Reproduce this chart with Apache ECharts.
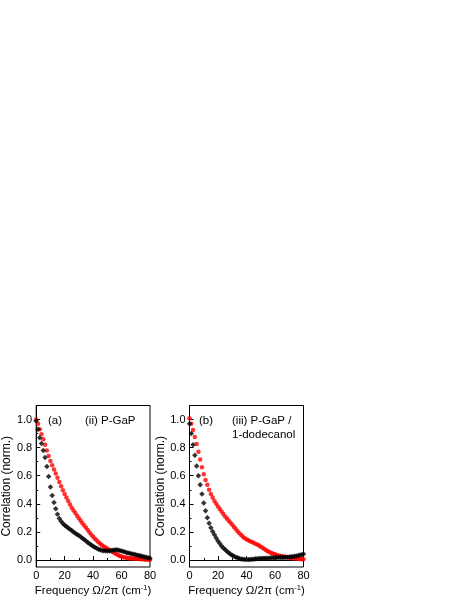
<!DOCTYPE html>
<html>
<head>
<meta charset="utf-8">
<script src="https://cdn.jsdelivr.net/npm/echarts@6/dist/echarts.min.js"></script>
<style>
html,body{margin:0;padding:0;background:#fff;}
#main{width:463px;height:599px;}
</style>
</head>
<body>
<div id="main"></div>
<script>
var freq = [0,1.25,2.5,3.75,5,6.25,7.5,8.75,10,11.25,12.5,13.75,15,16.25,17.5,18.75,20,21.25,22.5,23.75,25,26.25,27.5,28.75,30,31.25,32.5,33.75,35,36.25,37.5,38.75,40,41.25,42.5,43.75,45,46.25,47.5,48.75,50,51.25,52.5,53.75,55,56.25,57.5,58.75,60,61.25,62.5,63.75,65,66.25,67.5,68.75,70,71.25,72.5,73.75,75,76.25,77.5,78.75,80];

var blackA = [0.99,0.93,0.87,0.83,0.78,0.73,0.665,0.595,0.52,0.46,0.41,0.365,0.325,0.295,0.275,0.26,0.248,0.238,0.228,0.218,0.21,0.2,0.19,0.182,0.174,0.165,0.155,0.145,0.135,0.125,0.115,0.106,0.098,0.09,0.083,0.077,0.072,0.068,0.066,0.065,0.064,0.065,0.067,0.069,0.071,0.072,0.071,0.068,0.064,0.06,0.056,0.052,0.049,0.046,0.043,0.04,0.037,0.034,0.031,0.028,0.025,0.022,0.019,0.016,0.013];

var redA = [1.0,0.97,0.93,0.895,0.86,0.82,0.78,0.74,0.705,0.675,0.645,0.615,0.585,0.555,0.525,0.497,0.47,0.445,0.42,0.395,0.372,0.352,0.335,0.315,0.297,0.28,0.262,0.245,0.23,0.213,0.196,0.18,0.165,0.152,0.14,0.127,0.115,0.105,0.096,0.088,0.08,0.072,0.064,0.056,0.049,0.042,0.035,0.029,0.024,0.02,0.017,0.015,0.013,0.012,0.011,0.01,0.009,0.008,0.007,0.006,0.005,0.004,0.003,0.002,0.001];

var blackB = [0.97,0.9,0.82,0.745,0.67,0.6,0.535,0.47,0.405,0.35,0.3,0.262,0.23,0.203,0.18,0.157,0.136,0.117,0.1,0.086,0.074,0.062,0.051,0.041,0.033,0.026,0.02,0.015,0.011,0.007,0.005,0.004,0.003,0.003,0.004,0.005,0.006,0.008,0.009,0.01,0.011,0.012,0.012,0.012,0.013,0.014,0.015,0.016,0.016,0.017,0.017,0.017,0.018,0.018,0.019,0.02,0.021,0.023,0.025,0.027,0.029,0.032,0.035,0.038,0.042];

var redB = [1.01,0.97,0.925,0.875,0.825,0.77,0.715,0.66,0.61,0.57,0.535,0.5,0.47,0.445,0.42,0.4,0.38,0.363,0.345,0.328,0.31,0.295,0.28,0.265,0.25,0.235,0.22,0.205,0.19,0.177,0.165,0.155,0.147,0.14,0.134,0.128,0.122,0.116,0.11,0.103,0.095,0.087,0.078,0.07,0.062,0.055,0.049,0.044,0.04,0.036,0.032,0.029,0.026,0.024,0.021,0.019,0.017,0.015,0.013,0.011,0.01,0.008,0.007,0.006,0.005];

var yMajorTicks = [0, 0.2, 0.4, 0.6, 0.8, 1.0];
var yMinorTicks = [0.1, 0.3, 0.5, 0.7, 0.9];
var xTicks = [0, 20, 40, 60, 80];

var panelTitles = ['(a)', '(b)'];
var sampleLabelsA = ['(ii) P-GaP'];
var sampleLabelsB = ['(iii) P-GaP /', '1-dodecanol'];

function pairs(xs, ys) { return xs.map(function (x, i) { return [x, ys[i]]; }); }

var FONT = 'Liberation Sans, Arial, sans-serif';
var grids = [
  { left: 34.5, top: 405.5, width: 115.5, height: 161.5 },
  { left: 189.5, top: 405.5, width: 114, height: 161.5 }
];

var xAxes = [], yAxes = [];
grids.forEach(function (g, i) {
  g.show = true; g.borderColor = '#000'; g.borderWidth = 1; g.backgroundColor = 'transparent';
  xAxes.push({
    gridIndex: i, type: 'value', min: 0, max: 80, interval: 20,
    name: 'Frequency \u03A9/2\u03C0 (cm{sup|-1})', nameLocation: 'middle', nameGap: 17,
    nameTextStyle: { color: '#000', fontFamily: FONT, fontSize: 11.5, lineHeight: 14,
      rich: { sup: { fontSize: 7.5, fontFamily: FONT, color: '#000', verticalAlign: 'top', lineHeight: 9 } } },
    axisLine: { show: true, lineStyle: { color: '#000', width: 1 } },
    axisTick: { show: true, inside: true, length: 4, lineStyle: { color: '#000' } },
    minorTick: { show: true, splitNumber: 2, length: 2, lineStyle: { color: '#000' } },
    axisLabel: { color: '#000', fontFamily: FONT, fontSize: 11, margin: 3,
      customValues: xTicks },
    splitLine: { show: false }
  });
  yAxes.push({
    gridIndex: i, type: 'value', min: -0.05, max: 1.1, position: 'left',
    name: 'Correlation (norm.)', nameLocation: 'middle', nameGap: 17,
    nameTextStyle: { color: '#000', fontFamily: FONT, fontSize: 12 },
    axisLine: { show: true, lineStyle: { color: '#000', width: 1 } },
    axisTick: { show: true, inside: true, length: 4, customValues: yMajorTicks, lineStyle: { color: '#000' } },
    axisLabel: { color: '#000', fontFamily: FONT, fontSize: 11, margin: 4,
      customValues: yMajorTicks, formatter: function (v) { return v.toFixed(1); } },
    splitLine: { show: false }
  });
  yAxes.push({
    gridIndex: i, type: 'value', min: -0.05, max: 1.1, position: 'left',
    axisLine: { show: false },
    axisTick: { show: true, inside: true, length: 2, customValues: yMinorTicks, lineStyle: { color: '#000' } },
    axisLabel: { show: false },
    splitLine: { show: false }
  });
});

function sc(xi, yi, data, color, sym, size) {
  return { type: 'scatter', xAxisIndex: xi, yAxisIndex: yi, data: data,
    symbol: sym, symbolSize: size, itemStyle: { color: color }, silent: true, animation: false };
}

var txt = function (x, y, s) {
  return { type: 'text', left: x, top: y, style: { text: s, fill: '#000', font: '11.5px ' + FONT } };
};

var option = {
  animation: false,
  grid: grids,
  xAxis: xAxes,
  yAxis: yAxes,
  series: [
    sc(0, 0, pairs(freq, redA), '#ff0000', 'circle', 4.5),
    sc(0, 0, pairs(freq, blackA), '#000000', 'diamond', 5.5),
    sc(1, 2, pairs(freq, redB), '#ff0000', 'circle', 4.5),
    sc(1, 2, pairs(freq, blackB), '#000000', 'diamond', 5.5)
  ],
  graphic: [
    txt(48, 415, panelTitles[0]),
    txt(85, 415, sampleLabelsA[0]),
    txt(199, 415, panelTitles[1]),
    txt(232, 415, sampleLabelsB[0]),
    txt(232, 429, sampleLabelsB[1])
  ]
};

var chart = echarts.init(document.getElementById('main'), null, { renderer: 'canvas' });
chart.setOption(option);
</script>
</body>
</html>
